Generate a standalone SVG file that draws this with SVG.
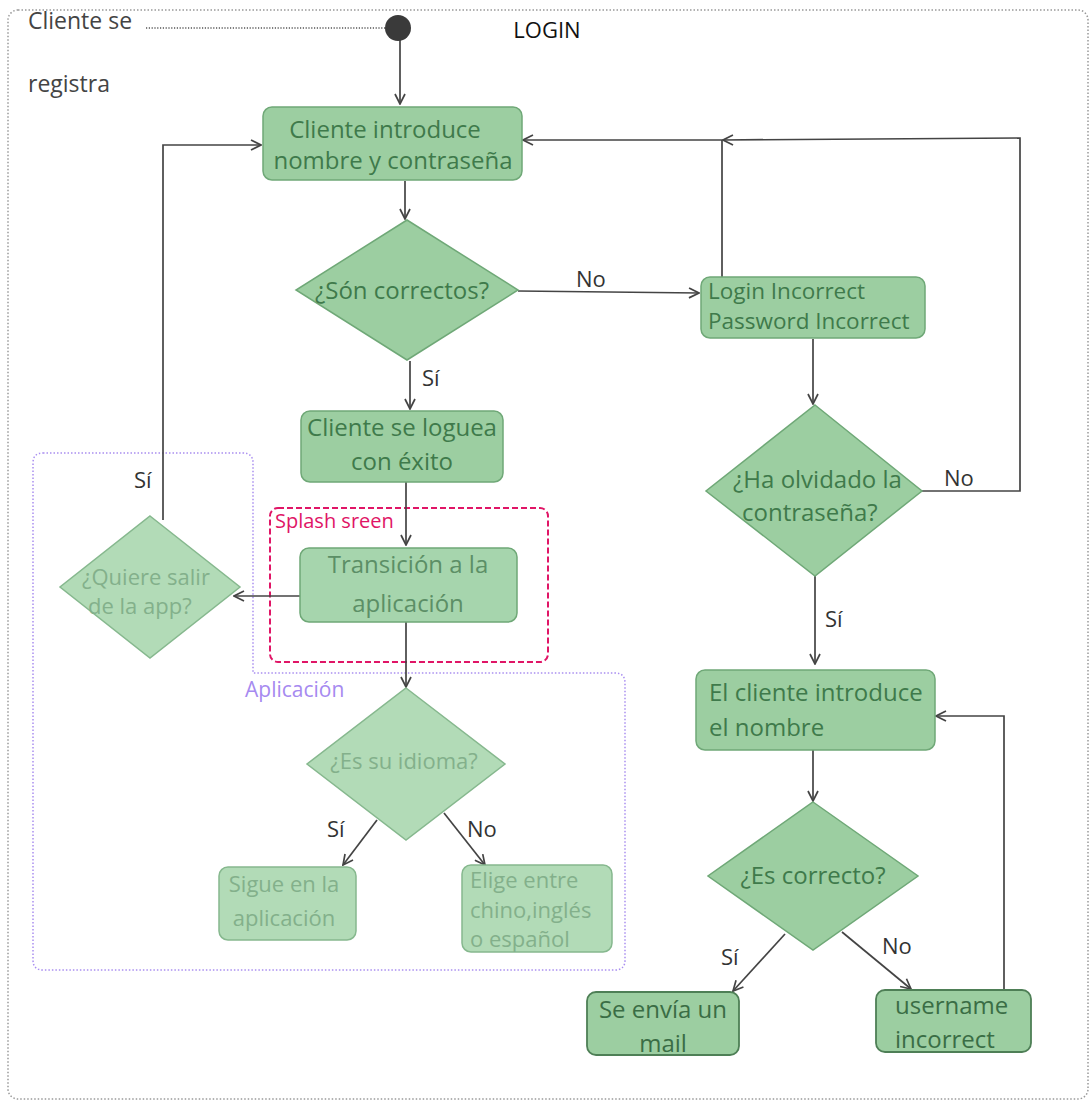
<svg xmlns="http://www.w3.org/2000/svg" width="1091" height="1102" viewBox="0 0 1091 1102">
<style>
text{font-family:"Open Sans","Liberation Sans",sans-serif;}
.n{fill:#9ccea1;stroke:#6fa877;stroke-width:1.5;}
.nt{fill:#3f7a4b;font-size:24px;}
.f{fill:#b2dbb7;stroke:#86b88e;stroke-width:1.5;}
.ft{fill:#83b08b;font-size:22px;}
.c{fill:none;stroke:#444;stroke-width:1.7;}
.lbl{fill:#333;font-size:22px;}
</style>
<defs>
<marker id="a" viewBox="0 0 12 12" refX="11" refY="6" markerWidth="12" markerHeight="12" markerUnits="userSpaceOnUse" orient="auto">
<path d="M1,1 L11,6 L1,11" fill="none" stroke="#444" stroke-width="1.7"/>
</marker>
</defs>
<rect x="8" y="10" width="1080" height="1089" rx="10" fill="none" stroke="#999" stroke-width="1.5" stroke-dasharray="1.5 2"/>
<text x="547" y="38" text-anchor="middle" style="font-size:22px;fill:#111">LOGIN</text>
<g id="register">
<text x="28" y="29" style="font-size:23px;fill:#444">Cliente se</text>
<text x="28" y="92" style="font-size:23px;fill:#444">registra</text>
</g>
<g id="regions">
<path d="M43,453 H243 Q253,453 253,463 V673 H615 Q625,673 625,683 V960 Q625,970 615,970 H43 Q33,970 33,960 V463 Q33,453 43,453 Z" fill="none" stroke="#a98ef0" stroke-width="1.5" stroke-dasharray="1.5 2"/>
<text x="245" y="697" style="font-size:21px;fill:#a68af0">Aplicación</text>
<rect x="270" y="508" width="278" height="154" rx="8" fill="none" stroke="#e01566" stroke-width="2" stroke-dasharray="6 3"/>
<text x="275" y="528" style="font-size:20px;fill:#e01566">Splash sreen</text>
</g>
<g id="connectors">
<line x1="146" y1="28" x2="386" y2="28" stroke="#555" stroke-width="1.3" stroke-dasharray="1.2 1.6"/>
<line class="c" x1="400" y1="40" x2="400" y2="104" marker-end="url(#a)"/>
<line class="c" x1="405" y1="181" x2="405" y2="219" marker-end="url(#a)"/>
<line class="c" x1="518" y1="291" x2="699" y2="293" marker-end="url(#a)"/>
<text class="lbl" x="576" y="287">No</text>
<line class="c" x1="410" y1="361" x2="410" y2="409" marker-end="url(#a)"/>
<text class="lbl" x="422" y="386">Sí</text>
<line class="c" x1="406" y1="482" x2="406" y2="545" marker-end="url(#a)"/>
<line class="c" x1="301" y1="596" x2="234" y2="596" marker-end="url(#a)"/>
<polyline class="c" points="163,520 163,145 261,145" marker-end="url(#a)"/>
<text class="lbl" x="134" y="488">Sí</text>
<line class="c" x1="406" y1="622" x2="406" y2="687" marker-end="url(#a)"/>
<line class="c" x1="377" y1="820" x2="343" y2="865" marker-end="url(#a)"/>
<text class="lbl" x="327" y="837">Sí</text>
<line class="c" x1="444" y1="813" x2="485" y2="865" marker-end="url(#a)"/>
<text class="lbl" x="467" y="837">No</text>
<polyline class="c" points="722,277 722,140 523,140" marker-end="url(#a)"/>
<polyline class="c" points="922,491 1020,491 1020,138 723,140" marker-end="url(#a)"/>
<text class="lbl" x="944" y="486">No</text>
<line class="c" x1="813" y1="339" x2="813" y2="404" marker-end="url(#a)"/>
<line class="c" x1="815" y1="576" x2="815" y2="664" marker-end="url(#a)"/>
<text class="lbl" x="825" y="627">Sí</text>
<line class="c" x1="813" y1="750" x2="813" y2="801" marker-end="url(#a)"/>
<line class="c" x1="785" y1="934" x2="733" y2="991" marker-end="url(#a)"/>
<text class="lbl" x="721" y="965">Sí</text>
<line class="c" x1="842" y1="932" x2="911" y2="989" marker-end="url(#a)"/>
<text class="lbl" x="882" y="954">No</text>
<polyline class="c" points="1004,990 1004,716 936,716" marker-end="url(#a)"/>
</g>
<g id="start"><circle cx="398" cy="28" r="13" fill="#3a3a3a"/></g>
<g id="n1">
<rect class="n" x="263" y="107" width="259" height="73" rx="9"/>
<text class="nt" x="385" y="138" text-anchor="middle">Cliente introduce</text>
<text class="nt" x="393" y="169" text-anchor="middle">nombre y contraseña</text>
</g>
<g id="d1">
<polygon class="n" points="407,220 518,290 407,360 296,290"/>
<text class="nt" x="402" y="299" text-anchor="middle">¿Són correctos?</text>
</g>
<g id="n2">
<rect class="n" x="701" y="277" width="224" height="61" rx="9"/>
<text class="nt" x="708" y="299" style="font-size:22.5px">Login Incorrect</text>
<text class="nt" x="708" y="329" style="font-size:22.5px">Password Incorrect</text>
</g>
<g id="n3">
<rect class="n" x="301" y="411" width="202" height="71" rx="9"/>
<text class="nt" x="402" y="436" text-anchor="middle">Cliente se loguea</text>
<text class="nt" x="402" y="470" text-anchor="middle">con éxito</text>
</g>
<g id="n4">
<rect x="300" y="548" width="217" height="74" rx="9" fill="#a6d5ad" stroke="#6fa877" stroke-width="1.5"/>
<text x="408" y="573" text-anchor="middle" style="font-size:24px;fill:#5c8f66">Transición a la</text>
<text x="408" y="612" text-anchor="middle" style="font-size:24px;fill:#5c8f66">aplicación</text>
</g>
<g id="d2">
<polygon class="f" points="150,516 240,587 150,658 60,587"/>
<text class="ft" x="82" y="585">¿Quiere salir</text>
<text class="ft" x="88" y="614">de la app?</text>
</g>
<g id="d3">
<polygon class="f" points="406,688 505,764 406,840 307,764"/>
<text class="ft" x="404" y="769" text-anchor="middle">¿Es su idioma?</text>
</g>
<g id="n5">
<rect class="f" x="219" y="867" width="137" height="73" rx="9"/>
<text class="ft" x="284" y="892" text-anchor="middle">Sigue en la</text>
<text class="ft" x="284" y="926" text-anchor="middle">aplicación</text>
</g>
<g id="n6">
<rect class="f" x="462" y="865" width="150" height="87" rx="9"/>
<text class="ft" x="470" y="888">Elige entre</text>
<text class="ft" x="470" y="918">chino,inglés</text>
<text class="ft" x="470" y="947">o español</text>
</g>
<g id="d4">
<polygon class="n" points="815,405 922,491 815,576 706,491"/>
<text class="nt" x="733" y="488">¿Ha olvidado la</text>
<text class="nt" x="742" y="521">contraseña?</text>
</g>
<g id="n7">
<rect class="n" x="696" y="670" width="239" height="80" rx="9"/>
<text class="nt" x="709" y="701">El cliente introduce</text>
<text class="nt" x="709" y="736">el nombre</text>
</g>
<g id="d5">
<polygon class="n" points="813,802 918,876 813,950 708,876"/>
<text class="nt" x="813" y="884" text-anchor="middle">¿Es correcto?</text>
</g>
<g id="n8">
<rect x="587" y="992" width="152" height="63" rx="9" fill="#9ccea1" stroke="#4e7f56" stroke-width="1.8"/>
<text class="nt" x="663" y="1018" text-anchor="middle" style="fill:#3a6d45">Se envía un</text>
<text class="nt" x="663" y="1052" text-anchor="middle" style="fill:#3a6d45">mail</text>
</g>
<g id="n9">
<rect x="876" y="990" width="155" height="62" rx="9" fill="#9ccea1" stroke="#4e7f56" stroke-width="1.8"/>
<text class="nt" x="895" y="1014" style="fill:#3a6d45">username</text>
<text class="nt" x="895" y="1048" style="fill:#3a6d45">incorrect</text>
</g>
</svg>
